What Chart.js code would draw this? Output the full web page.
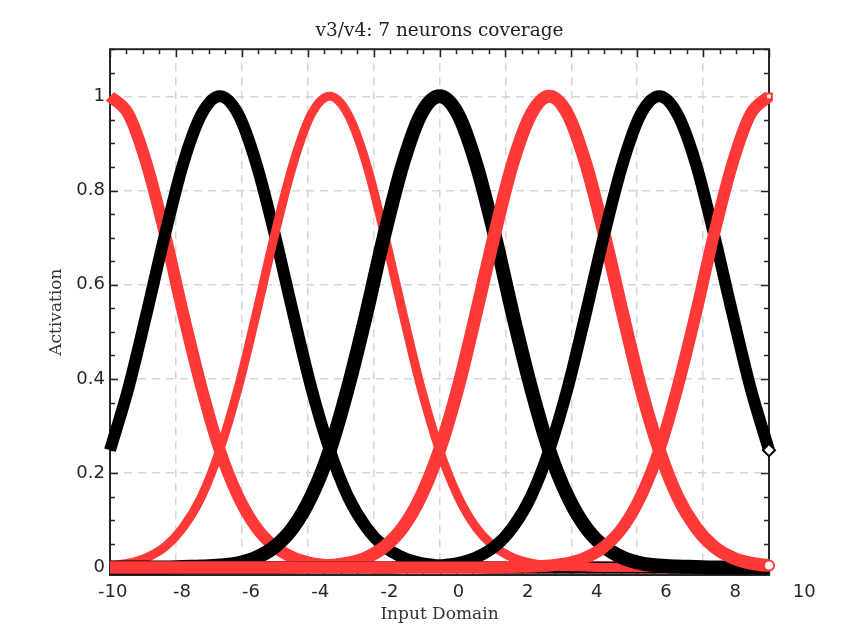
<!DOCTYPE html>
<html>
<head>
<meta charset="utf-8">
<title>v3/v4: 7 neurons coverage</title>
<script src="https://cdn.jsdelivr.net/npm/chart.js@4.4.1/dist/chart.umd.min.js"></script>
<style>
    html, body { margin: 0; padding: 0; background: #fff; }
    #wrap { width: 851px; height: 639px; }
</style>
</head>
<body>
<div id="wrap"><canvas id="coverage-chart" width="851" height="639"></canvas></div>
<script>
// Input domain samples (shared by every neuron)
const xs = [-10, -9.44, -8.89, -8.33, -7.78, -7.22, -6.67, -6.11, -5.56, -5, -4.44, -3.89, -3.33,
    -2.78, -2.22, -1.67, -1.11, -0.56, 0, 0.56, 1.11, 1.67, 2.22, 2.78, 3.33, 3.89, 4.44, 5,
    5.56, 6.11, 6.67, 7.22, 7.78, 8.33, 8.89, 9.44, 10];

// Activation of each neuron
const neuron1 = [1, 0.962, 0.857, 0.707, 0.539, 0.381, 0.249, 0.151, 0.085, 0.044, 0.021, 0.009, 0.004,
    0.002, 0.001, 0, 0, 0, 0, 0, 0, 0, 0, 0, 0, 0, 0, 0, 0, 0, 0, 0, 0, 0, 0, 0, 0];
const neuron2 = [0.249, 0.381, 0.539, 0.707, 0.857, 0.962, 1, 0.962, 0.857, 0.707, 0.539, 0.381, 0.249,
    0.151, 0.085, 0.044, 0.021, 0.009, 0.004, 0.002, 0.001, 0, 0, 0, 0, 0, 0, 0, 0, 0, 0, 0, 0, 0, 0, 0, 0];
const neuron3 = [0.004, 0.009, 0.021, 0.044, 0.085, 0.151, 0.249, 0.381, 0.539, 0.707, 0.857, 0.962, 1,
    0.962, 0.857, 0.707, 0.539, 0.381, 0.249, 0.151, 0.085, 0.044, 0.021, 0.009, 0.004, 0.002, 0.001,
    0, 0, 0, 0, 0, 0, 0, 0, 0, 0];
const neuron4 = [0, 0, 0, 0, 0.001, 0.002, 0.004, 0.009, 0.021, 0.044, 0.085, 0.151, 0.249, 0.381, 0.539,
    0.707, 0.857, 0.962, 1, 0.962, 0.857, 0.707, 0.539, 0.381, 0.249, 0.151, 0.085, 0.044, 0.021, 0.009,
    0.004, 0.002, 0.001, 0, 0, 0, 0];
const neuron5 = [0, 0, 0, 0, 0, 0, 0, 0, 0, 0, 0.001, 0.002, 0.004, 0.009, 0.021, 0.044, 0.085, 0.151,
    0.249, 0.381, 0.539, 0.707, 0.857, 0.962, 1, 0.962, 0.857, 0.707, 0.539, 0.381, 0.249, 0.151, 0.085,
    0.044, 0.021, 0.009, 0.004];
const neuron6 = [0, 0, 0, 0, 0, 0, 0, 0, 0, 0, 0, 0, 0, 0, 0, 0, 0.001, 0.002, 0.004, 0.009, 0.021, 0.044,
    0.085, 0.151, 0.249, 0.381, 0.539, 0.707, 0.857, 0.962, 1, 0.962, 0.857, 0.707, 0.539, 0.381, 0.249];
const neuron7 = [0, 0, 0, 0, 0, 0, 0, 0, 0, 0, 0, 0, 0, 0, 0, 0, 0, 0, 0, 0, 0, 0, 0.001, 0.002, 0.004,
    0.009, 0.021, 0.044, 0.085, 0.151, 0.249, 0.381, 0.539, 0.707, 0.857, 0.962, 1];

// Tick labels
const xTickValues = [-10, -8, -6, -4, -2, 0, 2, 4, 6, 8, 10];
const yTickValues = [0, 0.2, 0.4, 0.6, 0.8, 1];

const RED = '#ff3838';
const BLACK = '#000000';
const AXIS = '#262626';
const GRID = '#d6d6d6';
const SERIF = 'DejaVu Serif';

// color, line width, end marker (only the last sample carries one)
const seriesStyle = [
    { data: neuron1, color: RED, width: 12, marker: null, size: 0 },
    { data: neuron2, color: BLACK, width: 12, marker: null, size: 0 },
    { data: neuron3, color: RED, width: 9, marker: null, size: 0 },
    { data: neuron4, color: BLACK, width: 14, marker: null, size: 0 },
    { data: neuron5, color: RED, width: 13, marker: 'circle', size: 5 },
    { data: neuron6, color: BLACK, width: 12, marker: 'rectRot', size: 6 },
    { data: neuron7, color: RED, width: 12, marker: 'rect', size: 4 }
];

function buildDatasets() {
    return seriesStyle.map((s, i) => {
        const last = s.data.length - 1;
        return {
            label: 'Neuron ' + (i + 1),
            data: s.data.map((y, k) => ({ x: xs[k], y: y })),
            borderColor: s.color,
            borderWidth: s.width,
            borderJoinStyle: 'round',
            cubicInterpolationMode: 'monotone',
            fill: false,
            clip: false,
            order: seriesStyle.length - i, // later neurons drawn on top
            pointStyle: s.marker || 'circle',
            pointRadius: (ctx) => (s.marker && ctx.dataIndex === last ? s.size : 0),
            pointHoverRadius: 0,
            pointBackgroundColor: '#ffffff',
            pointBorderColor: s.color,
            pointBorderWidth: 2
        };
    });
}

// Box frame plus the small inward ticks of the axes
const frameTicks = {
    id: 'frameTicks',
    beforeDatasetsDraw(chart) {
        const { ctx, chartArea: a, scales } = chart;
        const x = scales.x, y = scales.y;
        ctx.save();
        ctx.strokeStyle = AXIS;

        ctx.lineWidth = 1.5;
        ctx.beginPath();
        // y ticks every 0.05 on both sides
        for (let i = 0; i <= 22; i++) {
            const py = Math.round(y.getPixelForValue(i * 0.05)) + 0.5;
            const len = i % 4 === 0 ? 8 : 5;
            ctx.moveTo(a.left, py); ctx.lineTo(a.left + len, py);
            ctx.moveTo(a.right, py); ctx.lineTo(a.right - len, py);
        }
        // x ticks every 0.5 on top and bottom
        for (let i = 0; i <= 40; i++) {
            const px = Math.round(x.getPixelForValue(-10 + i * 0.5)) + 0.5;
            const len = i % 4 === 0 ? 8 : 5;
            ctx.moveTo(px, a.top); ctx.lineTo(px, a.top + len);
            ctx.moveTo(px, a.bottom); ctx.lineTo(px, a.bottom - len);
        }
        ctx.stroke();

        ctx.lineWidth = 2;
        ctx.strokeRect(a.left, a.top, a.right - a.left, a.bottom - a.top);
        ctx.restore();
    }
};

const ctx = document.getElementById('coverage-chart').getContext('2d');
const chart = new Chart(ctx, {
    type: 'line',
    data: { datasets: buildDatasets() },
    options: {
        responsive: false,
        animation: false,
        events: [],
        layout: { padding: { top: 10, left: 40, right: 82, bottom: 0 } },
        scales: {
            // data scale: grid only, labels are on x2
            x: {
                type: 'linear',
                position: 'bottom',
                min: -10,
                max: 10,
                afterBuildTicks: (scale) => { scale.ticks = xTickValues.map(v => ({ value: v })); },
                afterFit: (scale) => { scale.height = 0; },
                ticks: { display: false },
                border: { display: false, dash: [8, 6] },
                grid: { color: GRID, lineWidth: 1.5, drawTicks: false },
                title: { display: false }
            },
            // label scale, its numbers sit a little off the grid in the picture
            x2: {
                type: 'linear',
                position: 'bottom',
                min: -10.08,
                max: 8.98,
                afterBuildTicks: (scale) => { scale.ticks = xTickValues.map(v => ({ value: v })); },
                afterFit: (scale) => { scale.height = 64; },
                ticks: {
                    autoSkip: false,
                    maxRotation: 0,
                    padding: 7,
                    color: AXIS,
                    font: { family: 'DejaVu Sans', size: 18 },
                    callback: (v) => String(v)
                },
                border: { display: false },
                grid: { display: false, drawTicks: false },
                title: {
                    display: true,
                    text: 'Input Domain',
                    color: '#333333',
                    font: { family: SERIF, size: 17 },
                    padding: { top: 2, bottom: 14 }
                }
            },
            y: {
                type: 'linear',
                min: -0.016,
                max: 1.1,
                afterBuildTicks: (scale) => { scale.ticks = yTickValues.map(v => ({ value: v })); },
                afterFit: (scale) => { scale.width = 70; },
                ticks: {
                    padding: 5,
                    color: AXIS,
                    font: { family: 'DejaVu Sans', size: 18 },
                    callback: (v) => (v === 0 || v === 1 ? String(v) : v.toFixed(1))
                },
                border: { display: false, dash: [8, 6] },
                grid: { color: GRID, lineWidth: 1.5, drawTicks: false },
                title: {
                    display: true,
                    text: 'Activation',
                    color: '#333333',
                    font: { family: SERIF, size: 17 },
                    padding: { top: 6, bottom: 0 }
                }
            }
        },
        plugins: {
            legend: { display: false },
            tooltip: { enabled: false },
            title: {
                display: true,
                fullSize: false,
                text: 'v3/v4: 7 neurons coverage',
                color: '#222222',
                font: { family: SERIF, size: 18.5, weight: 'normal' },
                padding: { top: 10, bottom: 7 }
            }
        }
    },
    plugins: [frameTicks]
});
</script>
</body>
</html>
